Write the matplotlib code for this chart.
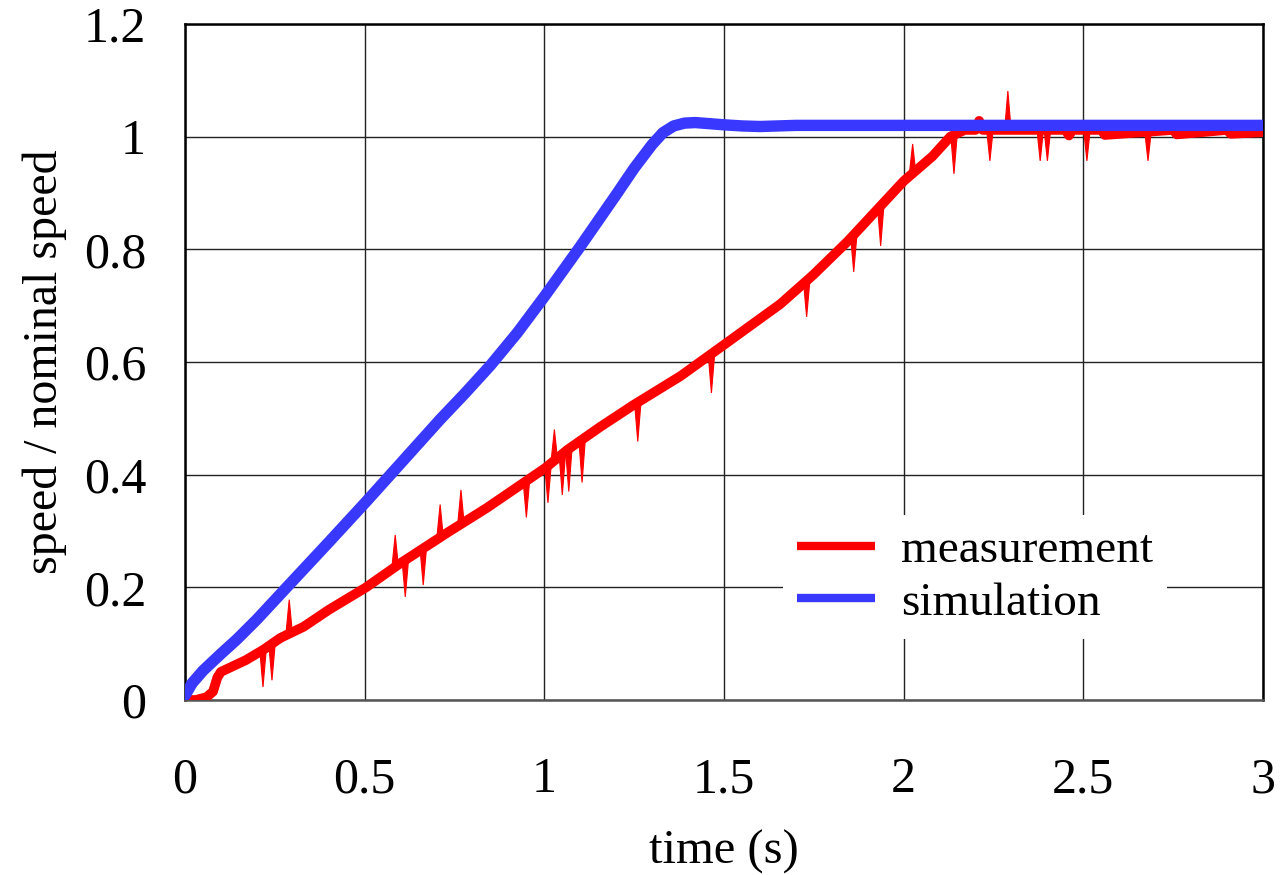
import numpy as np
import matplotlib
matplotlib.use('Agg')
import matplotlib.pyplot as plt

plt.rcParams['font.family'] = ['Liberation Serif', 'DejaVu Serif']

meas_t = [0.0, 0.03, 0.06, 0.078, 0.09, 0.1, 0.17, 0.22, 0.265, 0.33, 0.40, 0.504,
          0.6, 0.73, 0.84, 1.003, 1.064, 1.156, 1.249, 1.379, 1.501, 1.657, 1.749,
          1.844, 2.0, 2.08, 2.13, 2.17, 2.2, 2.21, 2.22, 2.45, 2.46, 2.47, 2.55,
          2.56, 2.75, 2.76, 2.9, 2.91, 3.0]
meas_v = [0.0, 0.0, 0.005, 0.015, 0.04, 0.05, 0.071, 0.09, 0.11, 0.13, 0.16, 0.20,
          0.243, 0.297, 0.341, 0.412, 0.444, 0.485, 0.524, 0.575, 0.631, 0.703, 0.755,
          0.814, 0.921, 0.965, 1.0, 1.012, 1.012, 1.028, 1.012, 1.012, 1.002, 1.012, 1.012,
          1.003, 1.012, 1.004, 1.012, 1.005, 1.008]

# single-sample glitches in the measurement
spike_t = [0.217, 0.242, 0.29, 0.585, 0.613, 0.663, 0.71, 0.768, 0.95, 1.01, 1.028,
           1.05, 1.068, 1.105, 1.26, 1.465, 1.73, 1.861, 1.936, 2.025, 2.14, 2.24,
           2.29, 2.38, 2.40, 2.51, 2.68]
spike_v = [0.023, 0.035, 0.178, 0.293, 0.183, 0.204, 0.347, 0.373, 0.324, 0.35, 0.48,
           0.364, 0.37, 0.386, 0.459, 0.545, 0.68, 0.76, 0.806, 0.987, 0.934, 0.957,
           1.081, 0.957, 0.957, 0.957, 0.957]

# simulated speed
sim_t = [0.0, 0.02, 0.05, 0.1, 0.145, 0.2, 0.283, 0.4, 0.504, 0.6, 0.71, 0.78, 0.85,
         0.925, 1.0, 1.1, 1.2, 1.25, 1.3, 1.33, 1.36, 1.39, 1.42, 1.46, 1.5, 1.55, 1.6,
         1.7, 3.0]
sim_v = [0.008, 0.03, 0.052, 0.082, 0.108, 0.143, 0.2, 0.28, 0.352, 0.42, 0.498, 0.545,
         0.594, 0.652, 0.716, 0.805, 0.897, 0.944, 0.986, 1.007, 1.019, 1.024, 1.025,
         1.023, 1.021, 1.019, 1.018, 1.02, 1.02]

red = '#ff0000'
blue = '#3838ff'

fig = plt.figure(figsize=(12.83, 8.75), dpi=100)
ax = fig.add_axes([0.1442, 0.2, 0.8402, 0.7726])

ax.plot(meas_t, meas_v, color=red, lw=7.0, solid_capstyle='butt', solid_joinstyle='round',
        label='measurement', zorder=3)
hw = 0.009
for t, v in zip(spike_t, spike_v):
    base = np.interp(t, meas_t, meas_v)
    ax.fill([t - hw, t, t + hw], [base, v, base], color=red, lw=0.8, zorder=3)
ax.plot(sim_t, sim_v, color=blue, lw=8.2, solid_capstyle='round', solid_joinstyle='round',
        label='simulation', zorder=4)

ax.set_xlim(0, 3)
ax.set_ylim(0, 1.2)
ax.set_xticks([0, 0.5, 1, 1.5, 2, 2.5, 3])
ax.set_xticklabels(['0', '0.5', '1', '1.5', '2', '2.5', '3'])
ax.set_yticks([0, 0.2, 0.4, 0.6, 0.8, 1.0, 1.2])
ax.set_yticklabels(['0', '0.2', '0.4', '0.6', '0.8', '1', '1.2'])
ax.tick_params(axis='both', length=0, labelsize=36)
ax.tick_params(axis='x', pad=41)
ax.tick_params(axis='y', pad=28)
ax.grid(True, color='#222222', lw=1.0, zorder=1)
ax.set_axisbelow(True)
for side in ['left', 'top', 'right']:
    ax.spines[side].set_color('black')
    ax.spines[side].set_linewidth(1.8)
ax.spines['bottom'].set_color('#555555')
ax.spines['bottom'].set_linewidth(1.8)

ax.set_xlabel('time (s)', fontsize=35, labelpad=19)
ax.set_ylabel('speed / nominal speed', fontsize=34.5, labelpad=12)

leg = ax.legend(loc='center', bbox_to_anchor=(0.733, 0.182), fontsize=34, frameon=True,
                handlelength=1.65, handletextpad=0.55, labelspacing=0.2, borderpad=0.3)
leg.get_frame().set_facecolor('white')
leg.get_frame().set_edgecolor('none')
leg.get_frame().set_alpha(1)
leg.get_frame().set_boxstyle('square', pad=0)
for h in leg.get_lines():
    h.set_linewidth(6)
    h.set_solid_capstyle('butt')

fig.savefig('out.png', dpi=100)
